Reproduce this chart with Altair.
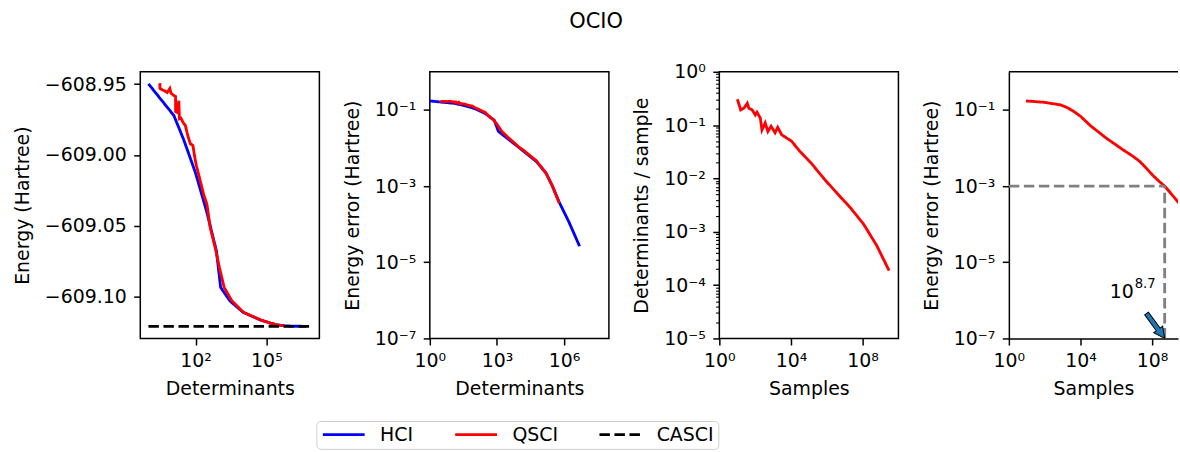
import altair as alt
import pandas as pd

FONT = "DejaVu Sans"
FS = 19
LW = 2.85

# ---------------- data ----------------
series_names = ["HCI", "QSCI", "CASCI"]
series_colors = ["#0000ff", "#ff0000", "#000000"]
series_dashes = [[1, 0], [1, 0], [10.5, 4.6]]

# HCI: determinants vs energy error (Hartree)
hci_determinants = [1, 12, 31, 62, 100, 290, 760, 1150, 2900, 10200, 56000,
                    155000, 300000, 600000, 1660000, 4900000]
hci_error = [0.1712, 0.1488, 0.1319, 0.1179, 0.1081, 0.0814, 0.0533, 0.0275,
             0.0178, 0.0100, 0.00447, 0.00219, 0.0010, 0.00038, 0.000112,
             0.0000263]

# QSCI: determinants vs energy error (Hartree)
qsci_determinants = [3.06, 3.07, 3.8, 4.8, 6.2, 8.1, 9.0, 11.1, 14.1, 14.2, 16.4,
                     19.4, 20.6, 24, 29, 37, 43, 51, 60, 77, 89, 107, 135, 219,
                     302, 417, 676, 1020, 1620, 3390, 10500, 14500, 56000,
                     155000, 302000, 603000]
qsci_error = [0.1717, 0.1680, 0.1670, 0.1663, 0.1651, 0.1679, 0.1647, 0.1633,
              0.1623, 0.1516, 0.1511, 0.1593, 0.1465, 0.1469, 0.1441, 0.1417,
              0.1370, 0.1324, 0.1289, 0.1277, 0.1207, 0.1137, 0.1071, 0.0931,
              0.0861, 0.0696, 0.0556, 0.0415, 0.0275, 0.0182, 0.0100, 0.0089,
              0.00468, 0.00219, 0.00098, 0.00036]

# CASCI reference energy
casci_energy = -609.121
casci_determinants = [1, 8.0e6]

# QSCI: samples vs determinants per sample
qsci_samples_a = [10.2, 15.5, 23.4, 36.3, 44.7, 67.6, 102, 126, 195, 240, 363,
                  513, 776, 1290, 1820, 3020, 5620, 10700, 30900, 132000,
                  724000, 3.89e6, 2.09e7, 1.15e8, 6.17e8, 3.02e9]
qsci_det_per_sample = [0.305, 0.193, 0.207, 0.257, 0.207, 0.193, 0.155, 0.174,
                       0.135, 0.081, 0.110, 0.076, 0.095, 0.072, 0.091, 0.066,
                       0.0575, 0.050, 0.0324, 0.0195, 0.00975, 0.00520,
                       0.00282, 0.00138, 0.00055, 0.000186]

# QSCI: samples vs energy error
qsci_samples_b = [9.0, 93, 776, 2000, 4170, 10000, 34700, 100000, 288000,
                  676000, 2.4e6, 8.7e6, 2.0e7, 4.7e7, 1.1e8, 2.5e8, 5.0e8,
                  2.1e9, 3.0e9]
qsci_error_b = [0.172, 0.158, 0.135, 0.112, 0.091, 0.068, 0.039, 0.0263,
                0.0178, 0.0135, 0.0089, 0.0060, 0.00447, 0.00295, 0.0019,
                0.00132, 0.0010, 0.00045, 0.00036]

# threshold annotation
threshold_error = 1e-3
threshold_samples = 10 ** 8.7
annot_text_pos = (10 ** 6.97, 10 ** -5.785)

# ---------------- data frames ----------------
def frame(xs, ys, name, xk, yk):
    return pd.DataFrame({xk: xs, yk: ys, "series": name, "idx": range(len(xs))})

hci_df = frame(hci_determinants, hci_error, "HCI", "det", "err")
hci_df["energy"] = casci_energy + hci_df["err"]
qsci_df = frame(qsci_determinants, qsci_error, "QSCI", "det", "err")
qsci_df["energy"] = casci_energy + qsci_df["err"]
casci_df = frame(casci_determinants, [casci_energy] * 2, "CASCI", "det", "energy")
ratio_df = frame(qsci_samples_a, qsci_det_per_sample, "QSCI", "samples", "ratio")
serr_df = frame(qsci_samples_b, qsci_error_b, "QSCI", "samples", "err")

# ---------------- axes helpers ----------------
SUP = "['⁰','¹','²','³','⁴','⁵','⁶','⁷','⁸','⁹']"
EXP = "round(log(datum.value)/LN10)"
POW = f"'10' + ({EXP} < 0 ? '⁻' : '') + {SUP}[abs({EXP})]"
IS_MINOR = f"abs(log(datum.value)/LN10 - {EXP}) > 0.001"
POW_MINOR = f"{IS_MINOR} ? '' : {POW}"

def log_axis(title, values, minor=False, frame_domain=False):
    kw = dict(title=title, values=values, labelExpr=POW_MINOR if minor else POW,
              labelFlush=False, labelOverlap=False)
    if minor:
        kw["tickSize"] = {"condition": {"test": IS_MINOR, "value": 3.8}, "value": 6.6}
        kw["tickWidth"] = {"condition": {"test": IS_MINOR, "value": 1.1}, "value": 1.5}
    if frame_domain:
        kw.update(domain=True, domainColor="black", domainWidth=1.5)
    return alt.Axis(**kw)

legend = alt.Legend(
    orient="none", legendX=177, legendY=351, direction="horizontal",
    symbolType="M-1,0L5,0", symbolSize=196, symbolStrokeWidth=LW,
    labelOffset=41, columnPadding=35, padding=4,
    strokeColor="#d0d0d0", fillColor="white", cornerRadius=4,
    labelFont=FONT, labelFontSize=FS, labelColor="black",
)
color_enc = alt.Color("series:N", title=None, legend=legend,
                      scale=alt.Scale(domain=series_names, range=series_colors))
dash_enc = alt.StrokeDash("series:N", title=None, legend=legend,
                          scale=alt.Scale(domain=series_names, range=series_dashes))

W, H = 180, 268

def lines(df, xf, yf, xs, ys, xa, ya):
    return alt.Chart(df).mark_line(strokeWidth=LW, clip=True).encode(
        x=alt.X(f"{xf}:Q", scale=xs, axis=xa),
        y=alt.Y(f"{yf}:Q", scale=ys, axis=ya),
        color=color_enc, strokeDash=dash_enc, order="idx:Q",
    )

# ---- panel 1: energy vs determinants ----
x1s = alt.Scale(type="log", domain=[10 ** -0.345, 10 ** 7.245], nice=False)
y1s = alt.Scale(domain=[-609.1295, -608.9413], nice=False, zero=False)
x1a = log_axis("Determinants", [1e2, 1e5])
y1a = alt.Axis(title="Energy (Hartree)", values=[-608.95, -609.0, -609.05, -609.10],
               labelExpr="replace(format(datum.value, '.2f'), '-', '−')")
p1 = alt.layer(
    lines(hci_df, "det", "energy", x1s, y1s, x1a, y1a),
    lines(qsci_df, "det", "energy", x1s, y1s, x1a, y1a),
    lines(casci_df, "det", "energy", x1s, y1s, x1a, y1a),
).properties(width=W, height=H)

# ---- panel 2: energy error vs determinants ----
x2s = alt.Scale(type="log", domain=[1, 1e8], nice=False)
y2s = alt.Scale(type="log", domain=[1e-7, 1], nice=False)
x2a = log_axis("Determinants", [1, 1e3, 1e6])
y2a = log_axis("Energy error (Hartree)", [1e-1, 1e-3, 1e-5, 1e-7])
p2 = alt.layer(
    lines(hci_df, "det", "err", x2s, y2s, x2a, y2a),
    lines(qsci_df, "det", "err", x2s, y2s, x2a, y2a),
).properties(width=W, height=H)

# ---- panel 3: determinants / sample vs samples ----
x3s = alt.Scale(type="log", domain=[1, 1e10], nice=False)
y3s = alt.Scale(type="log", domain=[1e-5, 1], nice=False)
minor_vals = [k * 10.0 ** e for e in range(-5, 0) for k in range(1, 10)] + [1.0]
x3a = log_axis("Samples", [1, 1e4, 1e8])
y3a = log_axis("Determinants / sample", minor_vals, minor=True)
p3 = lines(ratio_df, "samples", "ratio", x3s, y3s, x3a, y3a).properties(width=W, height=H)

# ---- panel 4: energy error vs samples (cut at the right edge) ----
W4 = 170
x4s = alt.Scale(type="log", domain=[1, 10 ** (W4 / 18.0)], nice=False)
y4s = alt.Scale(type="log", domain=[1e-7, 1], nice=False)
x4a = log_axis("Samples", [1, 1e4, 1e8], frame_domain=True)
y4a = log_axis("Energy error (Hartree)", [1e-1, 1e-3, 1e-5, 1e-7], frame_domain=True)

thr_df = pd.DataFrame({"x0": [1.0], "x1": [threshold_samples],
                       "y0": [1e-7], "y1": [threshold_error]})
gray = dict(color="#808080", strokeWidth=LW, strokeDash=[10.5, 4.6])
hline = alt.Chart(thr_df).mark_rule(**gray).encode(
    x=alt.X("x0:Q", scale=x4s, axis=x4a), x2="x1:Q",
    y=alt.Y("y1:Q", scale=y4s, axis=y4a))
vline = alt.Chart(thr_df).mark_rule(**gray).encode(
    x=alt.X("x1:Q", scale=x4s, axis=x4a),
    y=alt.Y("y0:Q", scale=y4s, axis=y4a), y2="y1:Q")
arrow_path = "M0,0 L-0.36,0.72 L-0.15,0.72 L-0.15,2 L0.15,2 L0.15,0.72 L0.36,0.72 Z"
arrow = alt.Chart(thr_df).mark_point(
    shape=arrow_path, size=961, angle=144, filled=True, fill="#1f77b4",
    stroke="black", strokeWidth=1, opacity=1,
).encode(x=alt.X("x1:Q", scale=x4s, axis=x4a), y=alt.Y("y0:Q", scale=y4s, axis=y4a))
txt_df = pd.DataFrame({"x": [annot_text_pos[0]], "y": [annot_text_pos[1]],
                       "base": ["10"], "sup": ["8.7"]})
t_base = alt.Chart(txt_df).mark_text(
    font=FONT, fontSize=FS, align="right", baseline="middle", color="black"
).encode(x=alt.X("x:Q", scale=x4s, axis=x4a), y=alt.Y("y:Q", scale=y4s, axis=y4a),
         text="base:N")
t_sup = alt.Chart(txt_df).mark_text(
    font=FONT, fontSize=13.3, align="left", baseline="middle", dx=1, dy=-8,
    color="black"
).encode(x=alt.X("x:Q", scale=x4s, axis=x4a), y=alt.Y("y:Q", scale=y4s, axis=y4a),
         text="sup:N")
top_border = alt.Chart(thr_df).mark_rule(color="black", strokeWidth=1.5).encode(
    x=alt.value(0), x2=alt.value(W4), y=alt.value(0))
p4 = alt.layer(
    lines(serr_df, "samples", "err", x4s, y4s, x4a, y4a),
    hline, vline, arrow, t_base, t_sup, top_border,
).properties(width=W4, height=H, view=alt.ViewBackground(stroke="transparent"))

chart = alt.hconcat(p1, p2, p3, p4, spacing=111, bounds="flush").properties(
    title=alt.TitleParams("OCIO", font=FONT, fontSize=21, fontWeight="normal",
                          anchor="middle", color="black", offset=30),
    padding={"left": 12, "top": 10, "right": 0, "bottom": 0},
).configure(font=FONT).configure_view(
    stroke="black", strokeWidth=1.5
).configure_axis(
    labelFont=FONT, labelFontSize=FS, labelColor="black",
    titleFont=FONT, titleFontSize=FS, titleFontWeight="normal", titleColor="black",
    tickColor="black", tickWidth=1.5, tickSize=6.6,
    domain=False, grid=False,
).configure_axisY(
    labelPadding=7.5, titlePadding=12,
).configure_axisX(
    labelPadding=7, titlePadding=9,
)

chart.save("out.html", embed_options={"renderer": "svg", "actions": False})
